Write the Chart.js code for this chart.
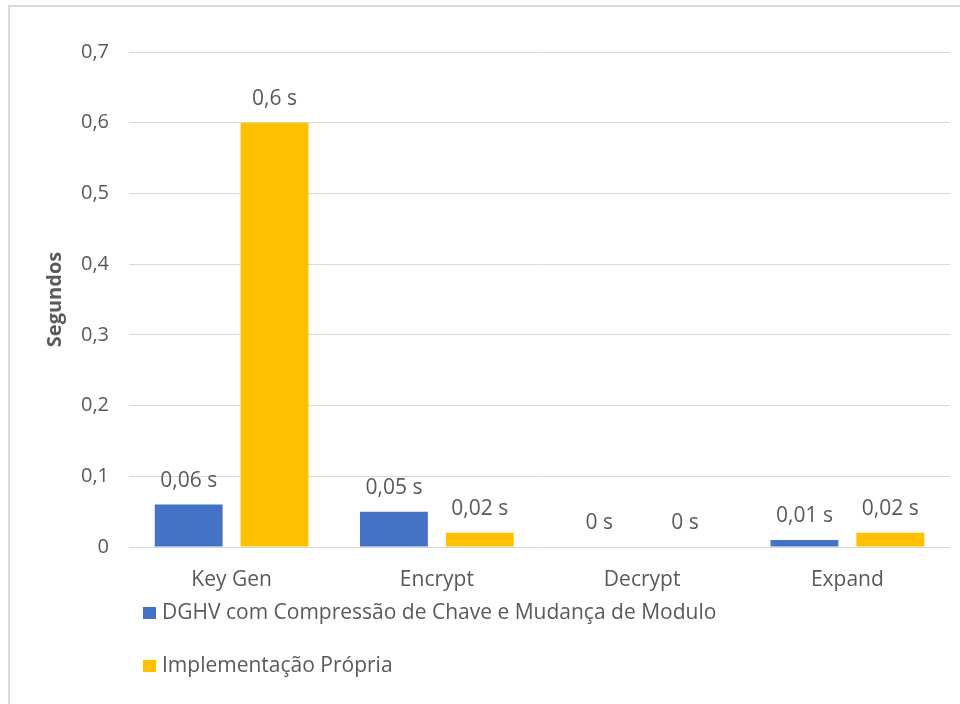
<!DOCTYPE html>
<html>
<head>
<meta charset="utf-8">
<script src="https://cdn.jsdelivr.net/npm/chart.js@4"></script>
<style>
  html, body { margin: 0; padding: 0; background: #fff; overflow: hidden; }
  #frame {
    position: absolute; left: 8px; top: 5px; width: 980px; height: 730px;
    border: 2px solid #d9d9d9; box-sizing: border-box;
  }
  #wrap { position: absolute; left: 0; top: 0; width: 960px; height: 704px; }
</style>
</head>
<body>
<div id="frame"></div>
<div id="wrap"><canvas id="timeChart"></canvas></div>
<script>
// Timing results, in seconds
const categories = ["Key Gen", "Encrypt", "Decrypt", "Expand"];
const seriesNames = ["DGHV com Compressão de Chave e Mudança de Modulo", "Implementação Própria"];
const dghvTimes = [0.06, 0.05, 0, 0.01];
const ownTimes = [0.6, 0.02, 0, 0.02];
const yMin = 0;
const yMax = 0.7;
const yStep = 0.1;

const textColor = "#595959";
const fontFamily = "'Open Sans', sans-serif";

// Portuguese number format: decimal comma
function commaNumber(v) {
    return v === 0 ? "0" : String(Number(v.toFixed(2))).replace(".", ",");
}

// Value labels above each bar
const barValueLabels = {
    id: "barValueLabels",
    afterDatasetsDraw(chart) {
        const ctx = chart.ctx;
        ctx.save();
        ctx.font = "21px " + fontFamily;
        ctx.fillStyle = textColor;
        ctx.textAlign = "center";
        ctx.textBaseline = "middle";
        chart.data.datasets.forEach((ds, i) => {
            chart.getDatasetMeta(i).data.forEach((bar, j) => {
                ctx.fillText(commaNumber(ds.data[j]) + " s", bar.x, bar.y - 24);
            });
        });
        ctx.restore();
    }
};

// Legend stacked one series per line under the axis
const stackedLegend = {
    id: "stackedLegend",
    afterDraw(chart) {
        const { ctx, chartArea } = chart;
        ctx.save();
        ctx.font = "21px " + fontFamily;
        ctx.textAlign = "left";
        ctx.textBaseline = "middle";
        chart.data.datasets.forEach((ds, i) => {
            const y = chartArea.bottom + 66 + i * 53;
            ctx.fillStyle = ds.backgroundColor;
            ctx.fillRect(chartArea.left + 14, y - 6, 13, 12);
            ctx.fillStyle = textColor;
            ctx.fillText(ds.label, chartArea.left + 33, y);
        });
        ctx.restore();
    }
};

Chart.defaults.font.family = fontFamily;
Chart.defaults.font.size = 20;
Chart.defaults.color = textColor;

new Chart(document.getElementById("timeChart"), {
    type: "bar",
    data: {
        labels: categories,
        datasets: [
            { label: seriesNames[0], data: dghvTimes, backgroundColor: "#4472C4" },
            { label: seriesNames[1], data: ownTimes, backgroundColor: "#FFC000" }
        ]
    },
    options: {
        responsive: true,
        maintainAspectRatio: false,
        animation: false,
        categoryPercentage: 0.837,
        barPercentage: 0.79,
        layout: { padding: { top: 52, right: 10, bottom: 97, left: 0 } },
        plugins: {
            legend: { display: false },
            tooltip: { enabled: false }
        },
        scales: {
            x: {
                grid: { display: false },
                border: { display: false },
                ticks: { padding: 12, font: { size: 21 } },
                afterFit(scale) { scale.height = 60; }
            },
            y: {
                min: yMin,
                max: yMax,
                ticks: {
                    stepSize: yStep,
                    padding: 20,
                    callback: v => commaNumber(v)
                },
                grid: { color: "#D9D9D9", drawTicks: false },
                border: { display: false },
                title: {
                    display: true,
                    text: "Segundos",
                    font: { size: 20, weight: "bold" },
                    padding: { top: 43 }
                },
                afterFit(scale) { scale.width = 129; }
            }
        }
    },
    plugins: [barValueLabels, stackedLegend]
});
</script>
</body>
</html>
